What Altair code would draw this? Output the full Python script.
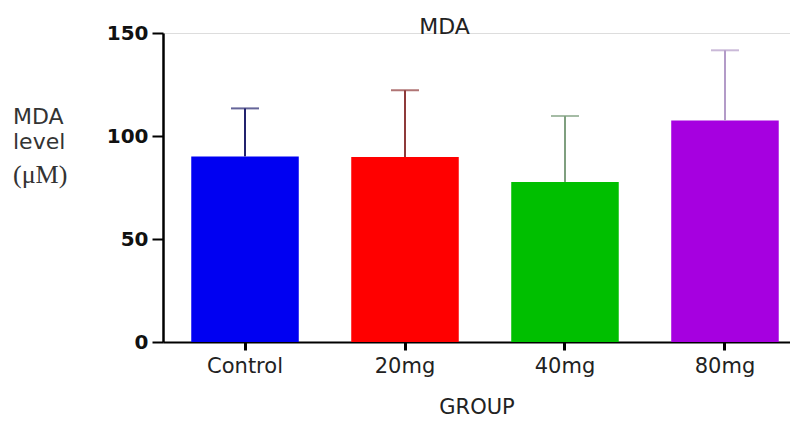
import altair as alt
import pandas as pd

groups = ["Control", "20mg", "40mg", "80mg"]
means = [90.1, 89.8, 77.7, 107.5]
sds = [23.3, 32.4, 32.0, 34.1]
bar_colors = ["#0000f2", "#ff0000", "#00bf00", "#a600e0"]
err_colors = ["#23236e", "#8e3a3a", "#7f9f7f", "#b39bc8"]
y_ticks = [0, 50, 100, 150]
ytitle_lines = ["MDA", "level"]
ytitle_unit = "(μM)"

df = pd.DataFrame({"group": groups, "mean": means, "sd": sds,
                   "bar_color": bar_colors, "err_color": err_colors})
df["upper"] = df["mean"] + df["sd"]

FONT = "DejaVu Sans"

x_enc = alt.X(
    "group:N", sort=groups,
    scale=alt.Scale(paddingInner=0.328, paddingOuter=0.1235, align=0.715),
    axis=alt.Axis(
        title="GROUP", labelAngle=0, labelFont=FONT, labelFontSize=21,
        labelColor="#222222", tickSize=8, tickWidth=3, tickColor="#000000",
        domainWidth=2, domainColor="#000000", labelPadding=5,
        titleFont=FONT, titleFontSize=21, titleFontWeight="normal",
        titleColor="#222222", titlePadding=20, grid=False,
    ),
)
y_scale = alt.Scale(domain=[0, 150], nice=False)
y_axis = alt.Axis(
    values=y_ticks, title=None, labelFont=FONT, labelFontWeight="bold",
    labelFontSize=20, labelColor="#111111", tickSize=11, tickWidth=2,
    tickColor="#000000", domainWidth=2.5, domainColor="#000000",
    labelPadding=4, grid=False,
)

base = alt.Chart(df)

bars = base.mark_bar().encode(
    x=x_enc,
    y=alt.Y("mean:Q", scale=y_scale, axis=y_axis),
    color=alt.Color("bar_color:N", scale=None),
)
rules = base.mark_rule(strokeWidth=2).encode(
    x=x_enc,
    y=alt.Y("mean:Q", scale=y_scale, axis=y_axis),
    y2="upper:Q",
    color=alt.Color("err_color:N", scale=None),
)
caps = base.mark_tick(thickness=2, size=28, orient="horizontal").encode(
    x=x_enc,
    y=alt.Y("upper:Q", scale=y_scale, axis=y_axis),
    color=alt.Color("err_color:N", scale=None),
)

t1 = alt.Chart(pd.DataFrame({"t": [ytitle_lines[0]]})).mark_text(
    font=FONT, fontSize=22, align="left", baseline="alphabetic", color="#333333"
).encode(text="t:N", x=alt.value(-150), y=alt.value(91))
t2 = alt.Chart(pd.DataFrame({"t": [ytitle_lines[1]]})).mark_text(
    font=FONT, fontSize=22, align="left", baseline="alphabetic", color="#333333"
).encode(text="t:N", x=alt.value(-150), y=alt.value(116))
t3 = alt.Chart(pd.DataFrame({"t": [ytitle_unit]})).mark_text(
    font="Liberation Serif", fontSize=26, align="left", baseline="alphabetic",
    color="#333333"
).encode(text="t:N", x=alt.value(-150), y=alt.value(150))

chart = alt.layer(bars, rules, caps, t1, t2, t3).properties(
    width=627, height=309,
    title=alt.TitleParams("MDA", font=FONT, fontSize=22, fontWeight="normal",
                          color="#222222", frame="group", anchor="middle",
                          dx=-32, offset=-16),
    autosize=alt.AutoSizeParams(type="none"),
    padding={"left": 155, "top": 25, "right": 0, "bottom": 75},
).configure_view(stroke=None).configure(background="#ffffff")

chart.save("out.html", embed_options={"renderer": "svg", "actions": False})
